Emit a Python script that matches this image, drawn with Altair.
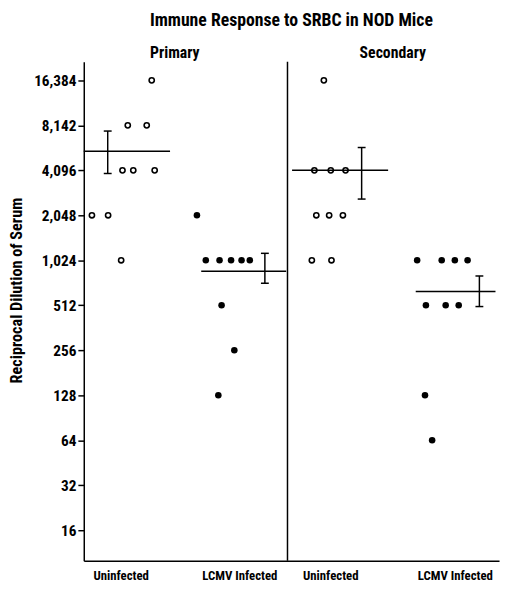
import json
import altair as alt
import pandas as pd

FONT = "Roboto Condensed, DejaVu Sans Condensed, Liberation Sans Narrow, Roboto, Liberation Sans, sans-serif"

# ---- axis ticks ----
y_ticks = [16, 32, 64, 128, 256, 512, 1024, 2048, 4096, 8192, 16384]
y_tick_labels = ["16", "32", "64", "128", "256", "512", "1,024", "2,048",
                 "4,096", "8,142", "16,384"]

# ---- titles, panels & groups ----
main_title = ["Immune Response to SRBC in NOD Mice"]
panels = ["Primary", "Secondary"]
panel_x = [0.894, 3.034]
divider_x = [2.0]
group_names = ["Uninfected", "LCMV Infected", "Uninfected", "LCMV Infected"]
group_label_x = [0.362, 1.527, 2.420, 3.643]

# ---- individual titres (value, horizontal position within group) ----
pu_val = [16384, 8192, 8192, 4096, 4096, 4096, 2048, 2048, 1024]
pu_x = [0.667, 0.432, 0.618, 0.380, 0.486, 0.696, 0.080, 0.239, 0.367]
pl_val = [2048, 1024, 1024, 1024, 1024, 1024, 512, 256, 128]
pl_x = [1.111, 1.198, 1.333, 1.446, 1.549, 1.630, 1.353, 1.478, 1.321]
su_val = [16384, 4096, 4096, 4096, 2048, 2048, 2048, 1024, 1024]
su_x = [2.357, 2.264, 2.425, 2.570, 2.283, 2.409, 2.544, 2.239, 2.432]
sl_val = [1024, 1024, 1024, 1024, 512, 512, 512, 128, 64]
sl_x = [3.273, 3.514, 3.643, 3.768, 3.359, 3.553, 3.681, 3.350, 3.420]

# ---- group means and error bars ----
mean_val = [5500, 866, 4096, 633]
err_hi = [7500, 1140, 5820, 804]
err_lo = [3900, 719, 2630, 502]
mean_x1 = [0.0, 1.153, 2.045, 3.259]
mean_x2 = [0.847, 1.987, 2.988, 4.042]
err_x = [0.235, 1.778, 2.728, 3.884]

open_df = pd.DataFrame({"x": pu_x + su_x, "v": pu_val + su_val})
filled_df = pd.DataFrame({"x": pl_x + sl_x, "v": pl_val + sl_val})
stats_df = pd.DataFrame({"m": mean_val, "hi": err_hi, "lo": err_lo,
                         "x1": mean_x1, "x2": mean_x2, "ex": err_x})
panel_df = pd.DataFrame({"x": panel_x, "t": panels})
div_df = pd.DataFrame({"x": divider_x})
title_df = pd.DataFrame({"t": main_title})

W, H = 422, 507
xscale = alt.Scale(domain=[0, 4.077], nice=False, zero=False)
yscale = alt.Scale(type="log", base=2, domain=[10, 21800], nice=False)

label_expr = "{}[indexof({}, datum.value)]".format(
    json.dumps(group_names), json.dumps(group_label_x))
ylabel_expr = "{}[indexof({}, datum.value)]".format(
    json.dumps(y_tick_labels), json.dumps(y_ticks))

xaxis = alt.Axis(values=group_label_x, labelExpr=label_expr, ticks=False,
                 grid=False, title=None, domainColor="black", domainWidth=1.5,
                 labelFont=FONT, labelFontSize=13, labelFontWeight="bold",
                 labelColor="black", labelPadding=9)
yaxis = alt.Axis(values=y_ticks, labelExpr=ylabel_expr, grid=False,
                 title="Reciprocal Dilution of Serum", titleFont=FONT,
                 titleFontSize=16.5, titleFontWeight="bold", titleColor="black",
                 titleX=-60, titleY=232, titleAngle=-90, titleAlign="center",
                 titleBaseline="bottom",
                 domainColor="black", domainWidth=1.5, tickColor="black",
                 tickWidth=1.5, tickSize=6, labelFont=FONT, labelFontSize=15.5,
                 labelFontWeight="bold", labelColor="black", labelPadding=2)

base_x = alt.X("x:Q", scale=xscale, axis=xaxis)

open_pts = alt.Chart(open_df).mark_point(
    shape="circle", filled=False, color="black", strokeWidth=1.6, size=28,
    opacity=1).encode(
    x=base_x, y=alt.Y("v:Q", scale=yscale, axis=yaxis))

filled_pts = alt.Chart(filled_df).mark_circle(
    color="black", size=44, opacity=1).encode(
    x=alt.X("x:Q", scale=xscale), y=alt.Y("v:Q", scale=yscale))

mean_lines = alt.Chart(stats_df).mark_rule(color="black", strokeWidth=1.5).encode(
    x=alt.X("x1:Q", scale=xscale), x2="x2:Q", y=alt.Y("m:Q", scale=yscale))

err_lines = alt.Chart(stats_df).mark_rule(color="black", strokeWidth=1.5).encode(
    x=alt.X("ex:Q", scale=xscale), y=alt.Y("lo:Q", scale=yscale), y2="hi:Q")

cap_hi = alt.Chart(stats_df).mark_tick(
    orient="horizontal", color="black", size=8, thickness=1.5, opacity=1).encode(
    x=alt.X("ex:Q", scale=xscale), y=alt.Y("hi:Q", scale=yscale))
cap_lo = alt.Chart(stats_df).mark_tick(
    orient="horizontal", color="black", size=8, thickness=1.5, opacity=1).encode(
    x=alt.X("ex:Q", scale=xscale), y=alt.Y("lo:Q", scale=yscale))

divider = alt.Chart(div_df).mark_rule(color="black", strokeWidth=1.5).encode(
    x=alt.X("x:Q", scale=xscale))

headers = alt.Chart(panel_df).mark_text(
    font=FONT, fontSize=16, fontWeight="bold", color="black",
    baseline="alphabetic", align="center").encode(
    x=alt.X("x:Q", scale=xscale), y=alt.value(-4), text="t:N")

title_mark = alt.Chart(title_df).mark_text(
    font=FONT, fontSize=18, fontWeight="bold", color="black",
    baseline="alphabetic", align="center").encode(
    x=alt.value(W / 2), y=alt.value(-36), text="t:N")

chart = alt.layer(
    divider, mean_lines, err_lines, cap_hi, cap_lo, open_pts, filled_pts,
    headers, title_mark
).properties(
    width=W, height=H,
    autosize=alt.AutoSizeParams(type="none"),
    padding={"left": 77, "top": 50, "right": 3, "bottom": 20},
    background="white",
).configure_view(stroke=None)

chart.save("out.html", embed_options={"renderer": "svg", "actions": False})
